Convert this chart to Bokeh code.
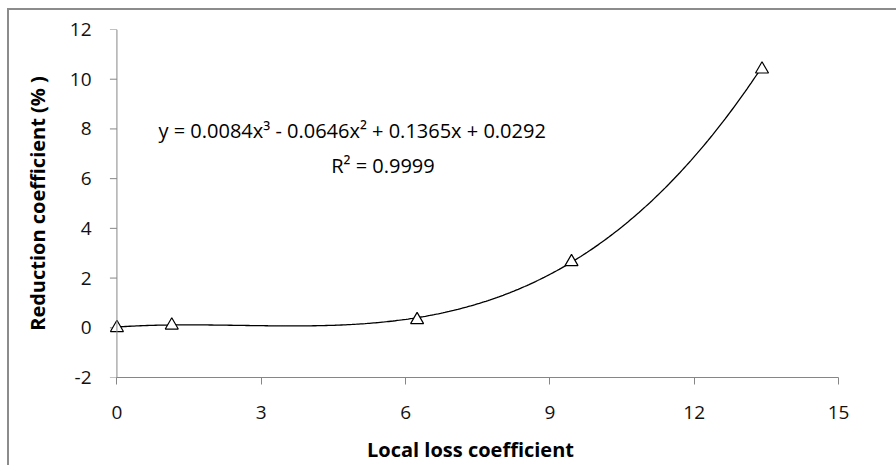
import numpy as np
from bokeh.plotting import figure
from bokeh.models import ColumnDataSource, Label, Range1d, FixedTicker, Span
from bokeh.embed import file_html
from bokeh.resources import INLINE

# data
loss_coef = [0.0, 1.14, 6.24, 9.45, 13.41]
reduction = [0.0, 0.1, 0.32, 2.65, 10.4]
# trendline coefficients as printed on the chart (x^3, x^2, x, 1)
trend_coef = [0.0084, -0.0646, 0.1365, 0.0292]
x_ticks = [0, 3, 6, 9, 12, 15]
y_ticks = [-2, 0, 2, 4, 6, 8, 10, 12]
y_tick_labels = {-2: "-2"}
equation_text = "y = 0.0084x\u00b3 - 0.0646x\u00b2 + 0.1365x + 0.0292"
r2_text = "R\u00b2 = 0.9999"

FONT = "Open Sans"
AXIS_GRAY = "#868686"
X_START = -0.3          # small margin so the marker at x=0 is not clipped
FRAME_W = 736
TICK_LEN = 7

p = figure(width=888, height=456, output_backend="svg", toolbar_location=None,
           x_range=Range1d(X_START, 15), y_range=Range1d(-2, 12),
           min_border_left=93, min_border_right=59, min_border_top=19, min_border_bottom=89)
p.frame_width = FRAME_W
p.frame_height = 348
p.styles = {"border-left": "2px solid #8c8c8c", "border-top": "2px solid #8c8c8c",
            "margin-left": "7px", "margin-top": "8px"}
p.outline_line_color = None
p.xgrid.visible = False
p.ygrid.visible = False
p.background_fill_color = "white"
p.border_fill_color = "white"

for ax in (p.xaxis[0], p.yaxis[0]):
    ax.axis_line_color = AXIS_GRAY
    ax.major_tick_line_color = AXIS_GRAY
    ax.minor_tick_line_color = None
    ax.major_tick_out = TICK_LEN
    ax.major_tick_in = 0
    ax.major_label_text_font = FONT
    ax.major_label_text_font_size = "19px"
    ax.major_label_text_color = "#111111"
    ax.axis_label_text_font = FONT
    ax.axis_label_text_font_size = "20px"
    ax.axis_label_text_font_style = "bold"
    ax.axis_label_text_color = "#000000"

p.xaxis.ticker = FixedTicker(ticks=x_ticks)
p.yaxis.ticker = FixedTicker(ticks=y_ticks)
p.xaxis.bounds = (0, 15)
p.yaxis.major_label_overrides = y_tick_labels
p.xaxis.axis_label = "Local loss coefficient"
p.yaxis.axis_label = "Reduction coefficient (% )"
p.xaxis.major_label_standoff = 21
p.xaxis.axis_label_standoff = 14

# the y axis sits at x=0, a little inside the frame edge: its labels come from
# the frame-edge axis, its line and ticks are drawn at x=0
p.yaxis.axis_line_color = None
p.yaxis.major_tick_line_color = None
p.yaxis.major_tick_out = 0
p.yaxis.major_label_standoff = 11
p.yaxis.axis_label_standoff = 16

p.add_layout(Span(location=0, dimension="height", line_color=AXIS_GRAY, line_width=1))
tick_units = TICK_LEN * (15 - X_START) / FRAME_W
p.segment(x0=[0] * len(y_ticks), y0=y_ticks, x1=[-tick_units] * len(y_ticks), y1=y_ticks,
          line_color=AXIS_GRAY, line_width=1)

# trendline from the chart's printed polynomial
xs = np.linspace(min(loss_coef), max(loss_coef), 300)
ys = np.polyval(trend_coef, xs)
p.line(xs, ys, line_color="#000000", line_width=1.3)

src = ColumnDataSource(dict(x=loss_coef, y=reduction))
p.scatter("x", "y", source=src, marker="triangle", size=13,
          fill_color="white", line_color="#000000", line_width=1.2)

p.add_layout(Label(x=4.89, y=7.93, text=equation_text, text_font=FONT,
                   text_font_size="20px", text_align="center", text_baseline="middle",
                   text_color="#000000"))
p.add_layout(Label(x=5.53, y=6.53, text=r2_text, text_font=FONT,
                   text_font_size="20px", text_align="center", text_baseline="middle",
                   text_color="#000000"))

open("out.html", "w").write(file_html(p, INLINE))
